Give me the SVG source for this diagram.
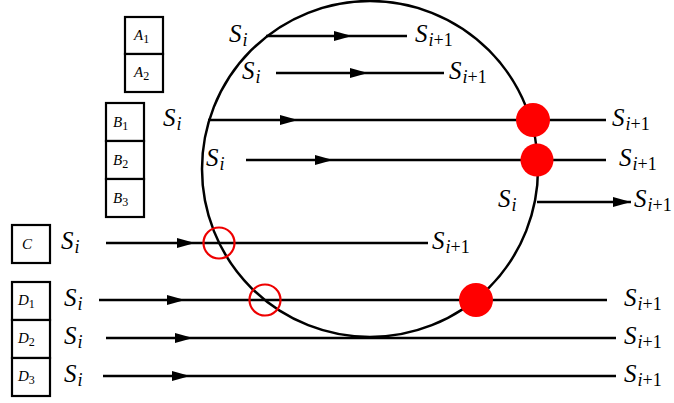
<svg xmlns="http://www.w3.org/2000/svg" width="674" height="403" viewBox="0 0 674 403">
<style>
.box{fill:#fff;stroke:#000;stroke-width:2.2}
.bl{font-family:"Liberation Serif",serif;font-style:italic;font-size:15px}
.bl tspan{font-style:normal;font-size:12px}
.s{font-family:"Liberation Serif",serif;font-style:italic;font-size:25px}
.sub{font-size:18px}
.up{font-style:normal}
.ln{fill:none;stroke:#000;stroke-width:2.5}
.ar{marker-mid:url(#ah)}
.dot{fill:#f00}
.ring{fill:none;stroke:#e00;stroke-width:2.2}
</style>
<defs>
<marker id="ah" viewBox="0 0 18 10" refX="18" refY="5" markerWidth="18" markerHeight="10" markerUnits="userSpaceOnUse" orient="auto">
<path d="M0,0 L18,5 L0,10 Z" fill="#000"/>
</marker>
</defs>
<circle id="circle" cx="370" cy="169" r="168" fill="none" stroke="#000" stroke-width="2.5"/>
<g id="nodeA1"><rect class="box" x="125" y="17" width="38" height="37"/><text class="bl" x="134" y="40">A<tspan dy="3">1</tspan></text></g>
<g id="nodeA2"><rect class="box" x="125" y="54" width="38" height="38"/><text class="bl" x="134" y="77">A<tspan dy="3">2</tspan></text></g>
<g id="nodeB1"><rect class="box" x="106" y="103" width="38" height="38"/><text class="bl" x="113" y="127">B<tspan dy="3">1</tspan></text></g>
<g id="nodeB2"><rect class="box" x="106" y="141" width="38" height="38"/><text class="bl" x="113" y="165">B<tspan dy="3">2</tspan></text></g>
<g id="nodeB3"><rect class="box" x="106" y="179" width="38" height="38"/><text class="bl" x="113" y="203">B<tspan dy="3">3</tspan></text></g>
<g id="nodeC"><rect class="box" x="12" y="225" width="38" height="38"/><text class="bl" x="22" y="249">C</text></g>
<g id="nodeD1"><rect class="box" x="12" y="282" width="38" height="38"/><text class="bl" x="18" y="305">D<tspan dy="3">1</tspan></text></g>
<g id="nodeD2"><rect class="box" x="12" y="320" width="38" height="38"/><text class="bl" x="18" y="343">D<tspan dy="3">2</tspan></text></g>
<g id="nodeD3"><rect class="box" x="12" y="358" width="38" height="38"/><text class="bl" x="18" y="381">D<tspan dy="3">3</tspan></text></g>
<g id="connectors">
<path class="ln ar" d="M266,36 L352,36 L407,36"/>
<path class="ln ar" d="M276,73 L368,73 L444,73"/>
<path class="ln ar" d="M208,120 L298,120 L606,120"/>
<path class="ln ar" d="M246,160 L333,160 L606,160"/>
<path class="ln" d="M537,202 L631,202" marker-end="url(#ah)"/>
<path class="ln ar" d="M106,243 L195,243 L428,243"/>
<path class="ln ar" d="M99,300 L185,300 L607,300"/>
<path class="ln ar" d="M106,338 L193,338 L616,338"/>
<path class="ln ar" d="M103,376 L190,376 L616,376"/>
</g>
<g id="markers">
<circle class="dot" cx="533" cy="120" r="17"/>
<circle class="dot" cx="537" cy="160" r="16.5"/>
<circle class="dot" cx="476" cy="300" r="17"/>
<circle class="ring" cx="219" cy="243" r="15.5"/>
<circle class="ring" cx="265" cy="300" r="15.5"/>
</g>
<g id="labels">
<text class="s" x="229" y="42">S<tspan class="sub" dx="1" dy="4">i</tspan></text>
<text class="s" x="415" y="42">S<tspan class="sub" dx="1" dy="4">i</tspan><tspan class="sub up">+1</tspan></text>
<text class="s" x="242" y="79">S<tspan class="sub" dx="1" dy="4">i</tspan></text>
<text class="s" x="449" y="79">S<tspan class="sub" dx="1" dy="4">i</tspan><tspan class="sub up">+1</tspan></text>
<text class="s" x="163" y="126">S<tspan class="sub" dx="1" dy="4">i</tspan></text>
<text class="s" x="612" y="126">S<tspan class="sub" dx="1" dy="4">i</tspan><tspan class="sub up">+1</tspan></text>
<text class="s" x="206" y="166">S<tspan class="sub" dx="1" dy="4">i</tspan></text>
<text class="s" x="619" y="166">S<tspan class="sub" dx="1" dy="4">i</tspan><tspan class="sub up">+1</tspan></text>
<text class="s" x="498" y="207">S<tspan class="sub" dx="1" dy="4">i</tspan></text>
<text class="s" x="634" y="207">S<tspan class="sub" dx="1" dy="4">i</tspan><tspan class="sub up">+1</tspan></text>
<text class="s" x="61" y="249">S<tspan class="sub" dx="1" dy="4">i</tspan></text>
<text class="s" x="432" y="249">S<tspan class="sub" dx="1" dy="4">i</tspan><tspan class="sub up">+1</tspan></text>
<text class="s" x="64" y="306">S<tspan class="sub" dx="1" dy="4">i</tspan></text>
<text class="s" x="624" y="306">S<tspan class="sub" dx="1" dy="4">i</tspan><tspan class="sub up">+1</tspan></text>
<text class="s" x="64" y="344">S<tspan class="sub" dx="1" dy="4">i</tspan></text>
<text class="s" x="624" y="344">S<tspan class="sub" dx="1" dy="4">i</tspan><tspan class="sub up">+1</tspan></text>
<text class="s" x="64" y="382">S<tspan class="sub" dx="1" dy="4">i</tspan></text>
<text class="s" x="624" y="382">S<tspan class="sub" dx="1" dy="4">i</tspan><tspan class="sub up">+1</tspan></text>
</g>
</svg>
